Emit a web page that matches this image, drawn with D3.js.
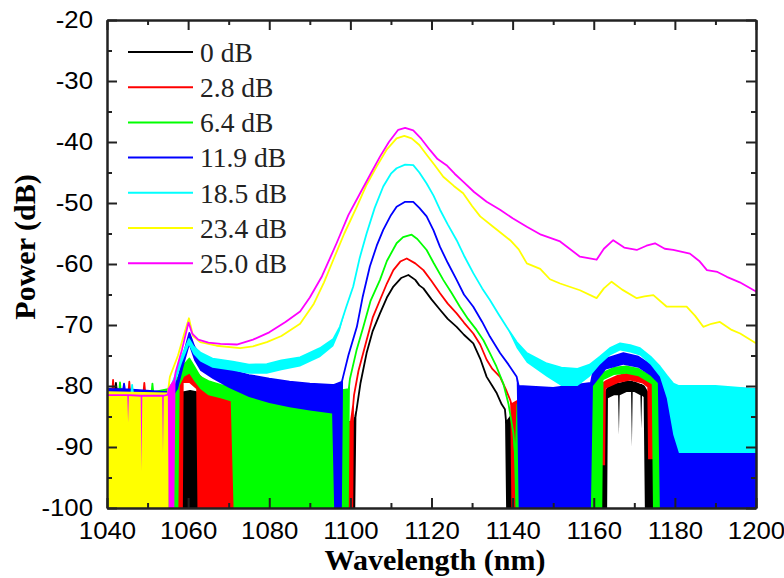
<!DOCTYPE html>
<html>
<head>
<meta charset="utf-8">
<script src="https://cdn.jsdelivr.net/npm/d3@7"></script>
<style>
  html, body { margin: 0; padding: 0; background: #fff; }
  #chart { width: 784px; height: 578px; }
</style>
</head>
<body>
<div id="chart"></div>
<script>
// series labels / colours (legend order = draw order)
const legendLabels = ["0 dB", "2.8 dB", "6.4 dB", "11.9 dB", "18.5 dB", "23.4 dB", "25.0 dB"];
const seriesColors = ["#000000", "#ff0000", "#00ff00", "#0000ff", "#00ffff", "#ffff00", "#ff00ff"];

const xMajor = [1040, 1060, 1080, 1100, 1120, 1140, 1160, 1180, 1200];
const xMinor = [1050, 1070, 1090, 1110, 1130, 1150, 1170, 1190];
const yMajor = [-100, -90, -80, -70, -60, -50, -40, -30, -20];
const yMinor = [-95, -85, -75, -65, -55, -45, -35, -25];

// each point: [wavelength nm, trace top dB, noise floor bottom dB (omitted = clean trace)]
const trace0 = [
  [1040, -80.5, -100], [1042, -80.5, -100], [1042.2, -79.5, -100], [1042.4, -80.5, -100],
  [1050, -81, -100], [1058.5, -81, -100], [1059, -81, -100], [1060.5, -80.8, -100],
  [1062, -81, -100], [1063, -84, -100], [1070, -85, -100], [1090, -85, -100],
  [1100.8, -86, -100], [1101.2, -85, -100], [1101.5, -84], [1102.5, -79.5], [1104, -74.6],
  [1105.5, -71], [1107.3, -68.1], [1109, -65.5], [1110.6, -63.7], [1112.5, -62.3],
  [1114.3, -61.8], [1116, -62.6], [1117, -63.5], [1118, -64], [1120, -65.8], [1122.1, -67.5],
  [1124, -69], [1126.2, -70.3], [1128, -71.6], [1130.3, -73], [1132, -75.5], [1133.6, -78.5],
  [1135, -80], [1136.1, -81.2], [1137.3, -83], [1138.1, -83.8], [1138.4, -86, -100],
  [1139.5, -85, -100], [1162.7, -84, -100], [1163.0, -81, -100], [1163.3, -80.5, -100],
  [1163.5, -80.3, -82], [1165, -79.8, -81.5], [1166, -79.6, -81.5], [1166.2, -79.6, -88],
  [1166.4, -79.6, -81.5], [1168.1, -79.3, -81], [1169.2, -79.3, -81], [1169.4, -79.3, -90],
  [1169.6, -79.4, -81], [1170, -79.4, -81], [1171.5, -79.8, -81.5], [1171.7, -79.8, -87],
  [1171.9, -79.9, -81.6], [1172.3, -80, -81.8], [1172.6, -80.3, -100], [1173.2, -81, -100],
  [1173.4, -84, -100], [1200, -84, -100]
];
const trace28 = [
  [1040, -81, -100], [1041.3, -81, -100], [1041.5, -79, -100], [1041.7, -81, -100],
  [1045.3, -81, -100], [1045.5, -79.3, -100], [1045.7, -81, -100],
  [1049, -81, -100], [1049.2, -79.5, -100], [1049.4, -81, -100],
  [1055, -81, -100], [1057.3, -80, -100], [1058.7, -77.2, -100], [1058.9, -77, -79.5],
  [1060.3, -76.3, -79.5], [1062, -77.8, -80.5], [1062.3, -78, -100], [1064, -79, -100],
  [1067, -80, -100], [1070, -80.6, -100], [1072, -81.5, -100], [1100.1, -86, -100],
  [1100.7, -83, -100], [1100.9, -81.5], [1102, -77.5], [1104, -72.5], [1105.5, -68.8],
  [1107.3, -65.9], [1109, -63.2], [1110.6, -61], [1112.3, -59.6], [1113.9, -59.1],
  [1116, -59.9], [1118, -61], [1120, -62.8], [1122.1, -64.8], [1124, -66.5], [1126.2, -68.1],
  [1128, -69.6], [1130.3, -71.4], [1132, -73.2], [1133.6, -75.7], [1135, -77.2],
  [1136.9, -78.5], [1138.3, -80.5], [1139.4, -82.3], [1139.7, -83, -100], [1141, -82.5, -100],
  [1161.3, -82, -100], [1161.6, -80, -93], [1162.8, -79.3, -93], [1163.0, -79.2, -80.4],
  [1166, -78.3, -79.5], [1169, -77.9, -79.1], [1172, -78.4, -79.6], [1173.2, -79, -80.2],
  [1173.4, -79.1, -92], [1175, -79.8, -92], [1175.3, -82, -100], [1200, -82, -100]
];
const trace64 = [
  [1040, -81, -100], [1043, -81, -100], [1043.2, -79.4, -100], [1043.4, -81, -100],
  [1051, -81, -100], [1051.2, -79.6, -100], [1051.4, -81, -100],
  [1055, -80.5, -100], [1057.6, -78.5, -100], [1057.9, -78, -80], [1059, -76.5, -78.5],
  [1060.3, -75.5, -78], [1061.5, -76.8, -79.2], [1063, -78.5, -80.5], [1065, -79.2, -81.5],
  [1068, -79.8, -82], [1070.5, -80.2, -82.5], [1071.2, -80.4, -100], [1075, -80.6, -100],
  [1080, -80.8, -100], [1085, -81, -100], [1095, -81, -100], [1099.6, -80.5, -100],
  [1099.9, -78.8], [1101.5, -74.2], [1103.2, -70.3], [1105, -66], [1107.3, -62.6],
  [1109, -59.5], [1111.4, -56.6], [1113, -55.6], [1115.1, -55.2], [1116.5, -55.9],
  [1118.8, -57.7], [1120.5, -59.8], [1122.9, -62.6], [1125, -64.8], [1127, -67], [1129, -69],
  [1131.1, -70.8], [1132.8, -72.5], [1134.4, -74.6], [1136, -76.8], [1137.7, -79.6],
  [1139, -83], [1140.2, -87.8], [1140.7, -92, -100], [1141.2, -83, -100], [1158.8, -82, -100],
  [1159.2, -80, -100], [1160, -79, -100], [1162.1, -78, -100], [1162.4, -77.8, -79],
  [1165, -77, -78.2], [1168, -76.8, -78], [1171, -77.2, -78.4], [1174.3, -78.5, -79.7],
  [1174.6, -78.8, -100], [1176, -79.5, -100], [1178.2, -80.5, -100], [1178.6, -82, -100],
  [1200, -82, -100]
];
const trace119 = [
  [1040, -80.5, -83], [1044, -80.5, -83], [1044.2, -79.6, -83], [1044.4, -80.5, -83],
  [1055, -81, -83], [1057.5, -79, -80.5], [1059, -74.5, -76.5], [1060.3, -71.3, -73.5],
  [1061.5, -73.5, -75.8], [1063, -75, -77.5], [1066, -76, -78.8], [1070, -77.3, -80.3],
  [1075, -78.2, -81.8], [1080, -78.8, -82.8], [1085, -79.3, -83.5], [1090, -79.6, -84],
  [1095.5, -79.8, -84.5], [1096, -79.8, -100], [1097.9, -79.3, -100], [1098.2, -78.5],
  [1099.5, -75], [1101.6, -70.3], [1103, -65.5], [1104.8, -60.4], [1106.5, -57],
  [1108.1, -54.4], [1110, -52], [1111.4, -50.6], [1113.5, -49.8], [1115.5, -49.8],
  [1117, -50.8], [1118.8, -52.2], [1120.5, -54.5], [1122.1, -57.2], [1124, -59.8],
  [1126.2, -62.6], [1128, -65], [1130.3, -67], [1132.5, -69.5], [1134.4, -71.9],
  [1136.9, -74.6], [1139, -76.5], [1141, -78.5], [1141.5, -80, -100], [1150, -80.3, -100],
  [1159.3, -79.5, -100], [1159.8, -77.8, -80], [1163, -75.5, -77.3], [1167.3, -74.6, -76.5],
  [1171, -75.2, -77], [1174, -76.5, -78.3], [1175.8, -77.5, -79.5], [1176.3, -78.2, -100],
  [1178, -79, -100], [1180, -80, -100], [1200, -80.5, -100]
];
const trace185 = [
  [1040, -81.3, -83.5], [1046, -81.3, -83.5], [1046.2, -79.8, -83.5], [1046.4, -81.3, -83.5],
  [1055, -81.5, -83.5], [1057, -78, -79.2], [1058.5, -75, -76.2], [1060.2, -72.3, -73.3],
  [1061.3, -73.5, -74.8], [1063, -74.5, -76], [1066, -75.5, -77], [1071, -76, -77.5],
  [1075, -76.5, -78], [1079.4, -76.4, -78], [1083, -75.8, -77.4], [1087.6, -75.3, -76.8],
  [1092.5, -73.8, -75.3], [1095.8, -72.3, -73.5], [1097.4, -70.3, -71], [1099, -67],
  [1100.7, -63.7], [1102.3, -59], [1104, -55], [1106, -50.8], [1108.1, -47.3], [1110, -45.2],
  [1111.4, -44.3], [1113.5, -43.7], [1115.5, -43.8], [1117, -45], [1118.8, -46.8],
  [1120.5, -48.8], [1122.1, -51.1], [1124, -53.5], [1126.2, -56.1], [1128, -58.6],
  [1130.3, -61.5], [1132.5, -64], [1134.4, -65.9], [1136.5, -68.2], [1138.5, -70.3],
  [1141, -72.8, -73.8], [1143.5, -74.6, -76.2], [1148.4, -76.3, -78.5], [1152, -77, -80],
  [1156, -77.2, -80], [1159, -76.5, -78.5], [1161.5, -75.2, -76.5], [1164, -73.8, -75],
  [1166.5, -73, -74.2], [1169, -73.3, -74.5], [1171.4, -73.8, -75], [1174, -75.2, -76.5],
  [1176.3, -76.8, -78.5], [1178, -78.3, -82], [1179.6, -79.6, -88], [1181, -80, -91],
  [1190, -80, -91], [1200, -80.5, -91]
];
const trace234 = [
  [1040, -81, -100], [1055, -81.2, -100], [1055.2, -80, -100], [1055.5, -78.5],
  [1057.5, -75], [1059, -71.5], [1060.2, -68.9], [1061.2, -71.8], [1063, -72.8], [1067, -73.4],
  [1072.8, -73.8], [1076, -73.5], [1079.4, -72.8], [1083, -71.8], [1087.6, -69.8],
  [1091, -66.5], [1093.5, -63], [1095.8, -59.3], [1098.5, -55], [1101.6, -50.6], [1104, -47],
  [1106.5, -44], [1109, -41.2], [1111.4, -39.4], [1113.3, -39], [1115.1, -39.4], [1117, -40.5],
  [1118.8, -42.1], [1120.8, -43.8], [1122.9, -45.7], [1125.5, -47.2], [1127.8, -48.4],
  [1130, -50.5], [1132, -52.2], [1135.2, -53.9], [1139.4, -56.1], [1141.5, -57.6],
  [1143.5, -59.9], [1146.8, -60.8], [1149.2, -62.5], [1151.7, -63.2], [1156.6, -64.3],
  [1160.7, -65.6], [1162.5, -64], [1164.4, -62.9], [1167, -64.2], [1170.6, -65.6],
  [1172.5, -65.3], [1174.7, -65.1], [1178, -67], [1182.9, -67], [1185, -68.5], [1187, -70.3],
  [1189, -69.8], [1191.1, -69.5], [1194, -70.8], [1196.1, -71.4], [1200, -73]
];
const trace250 = [
  [1040, -81.5], [1045, -81.5], [1045.2, -81.5, -86], [1045.4, -81.5],
  [1048.3, -81.6], [1048.5, -81.6, -94], [1048.7, -81.6], [1053.6, -81.6],
  [1053.8, -81.6, -91], [1054, -81.6], [1055, -81.4], [1055.2, -80.5, -100],
  [1056.6, -79, -100], [1056.9, -77.8], [1058.5, -74], [1060.1, -69.6], [1061, -71.4],
  [1062.5, -72.4], [1065, -72.9], [1068, -73.1], [1072, -73.2], [1076, -72.4], [1080, -71.2],
  [1084, -69.5], [1087.6, -67.8], [1090, -65.5], [1093, -62], [1096.6, -56.6], [1099.5, -52],
  [1102.4, -48.4], [1105, -45.2], [1107.3, -42.4], [1109.5, -40], [1111.8, -38],
  [1113.5, -37.7], [1115.5, -38.1], [1117.5, -39.5], [1119.6, -41.3], [1121.5, -42.8],
  [1123.7, -43.8], [1125.7, -45.2], [1127.8, -46.5], [1130.5, -48.2], [1133.6, -49.8],
  [1136.9, -51.1], [1140, -52.5], [1143.5, -53.9], [1147, -55.2], [1151.7, -56.3],
  [1156.6, -58.8], [1160.7, -59.3], [1162.5, -57.5], [1164.8, -56.1], [1167.5, -57.3],
  [1170.6, -57.7], [1173, -57], [1175.1, -56.6], [1177.5, -57.5], [1179.6, -57.7],
  [1183.7, -58.3], [1186, -59.5], [1187.9, -61], [1190.5, -61.3], [1192.8, -62.1],
  [1196, -63], [1200, -64.5]
];

const traces = [trace0, trace28, trace64, trace119, trace185, trace234, trace250];

const W = 784, H = 578;
const margin = { left: 107, right: 28, top: 20, bottom: 70 };

const svg = d3.select("#chart")
  .append("svg")
  .attr("width", W)
  .attr("height", H)
  .attr("font-family", "'Liberation Sans', Arial, sans-serif");

const x = d3.scaleLinear().domain([1040, 1200]).range([margin.left, W - margin.right]);
const y = d3.scaleLinear().domain([-100, -20]).range([H - margin.bottom, margin.top]);

// clip to the frame
svg.append("defs").append("clipPath").attr("id", "plot-clip")
  .append("rect")
  .attr("x", x(1040)).attr("y", y(-20))
  .attr("width", x(1200) - x(1040)).attr("height", y(-100) - y(-20));

const plot = svg.append("g").attr("clip-path", "url(#plot-clip)");

const bottomOf = d => (d.length > 2 ? d[2] : d[1]);
const area = d3.area()
  .x(d => x(d[0]))
  .y0(d => y(bottomOf(d)))
  .y1(d => y(d[1]));
const line = d3.line()
  .x(d => x(d[0]))
  .y(d => y(d[1]));

// traces: noise floor band filled, then the trace itself
traces.forEach((trace, i) => {
  plot.append("path")
    .datum(trace)
    .attr("d", area)
    .attr("fill", seriesColors[i])
    .attr("stroke", "none");
  plot.append("path")
    .datum(trace)
    .attr("d", line)
    .attr("fill", "none")
    .attr("stroke", seriesColors[i])
    .attr("stroke-width", 1.8)
    .attr("stroke-linejoin", "round");
});

// axes, ticks inward on all four sides
function drawAxis(axisFn, scale, values, size, transform, labels) {
  const g = svg.append("g")
    .attr("transform", transform)
    .call(axisFn(scale)
      .tickValues(values)
      .tickSizeInner(-size)
      .tickSizeOuter(0)
      .tickPadding(labels ? 15 : 0)
      .tickFormat(labels ? (d => String(d)) : ""));
  g.select(".domain").attr("stroke", "#222").attr("stroke-width", 2);
  g.selectAll(".tick line").attr("stroke", "#222").attr("stroke-width", 2);
  return g;
}

const bottomY = y(-100), topY = y(-20), leftX = x(1040), rightX = x(1200);

const gx = drawAxis(d3.axisBottom, x, xMajor, 10, `translate(0,${bottomY})`, true);
drawAxis(d3.axisBottom, x, xMinor, 5, `translate(0,${bottomY})`, false);
drawAxis(d3.axisTop, x, xMajor, 10, `translate(0,${topY})`, false);
drawAxis(d3.axisTop, x, xMinor, 5, `translate(0,${topY})`, false);
const gy = drawAxis(d3.axisLeft, y, yMajor, 10, `translate(${leftX},0)`, true);
drawAxis(d3.axisLeft, y, yMinor, 5, `translate(${leftX},0)`, false);
drawAxis(d3.axisRight, y, yMajor, 10, `translate(${rightX},0)`, false);
drawAxis(d3.axisRight, y, yMinor, 5, `translate(${rightX},0)`, false);

gy.selectAll(".tick text").attr("x", -14);
[gx, gy].forEach(g => {
  g.selectAll(".tick text")
    .attr("font-family", "'Liberation Sans', Arial, sans-serif")
    .attr("font-size", 23)
    .attr("fill", "#000")
    .each(function() {
      // the original labels are a bit wider than Arial
      const len = this.getComputedTextLength();
      d3.select(this).attr("textLength", len * 1.12).attr("lengthAdjust", "spacingAndGlyphs");
    });
});

// axis titles
svg.append("text")
  .attr("transform", `translate(35,247) rotate(-90)`)
  .attr("text-anchor", "middle")
  .attr("font-family", "'Liberation Serif', 'Times New Roman', serif")
  .attr("font-weight", "bold")
  .attr("font-size", 30)
  .text("Power (dB)");

svg.append("text")
  .attr("x", 435)
  .attr("y", 570)
  .attr("text-anchor", "middle")
  .attr("font-family", "'Liberation Serif', 'Times New Roman', serif")
  .attr("font-weight", "bold")
  .attr("font-size", 30)
  .text("Wavelength (nm)");

// legend
const legend = svg.append("g").attr("transform", "translate(128,52)");
legendLabels.forEach((label, i) => {
  const row = legend.append("g").attr("transform", `translate(0,${i * 35.2})`);
  row.append("line")
    .attr("x1", 0).attr("x2", 65)
    .attr("stroke", seriesColors[i])
    .attr("stroke-width", 2);
  row.append("text")
    .attr("x", 72)
    .attr("y", 9.8)
    .attr("font-family", "'Liberation Serif', 'Times New Roman', serif")
    .attr("font-size", 27.5)
    .attr("fill", "#222")
    .text(label);
});
</script>
</body>
</html>
